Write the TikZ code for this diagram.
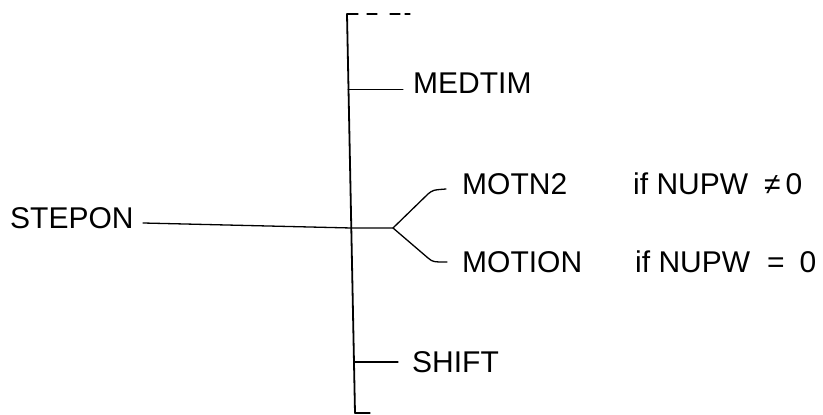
\documentclass[tikz,border=0pt]{standalone}
\usepackage{fontspec}
\setmainfont{Liberation Sans}
\begin{document}
\begin{tikzpicture}[x=1pt,y=1pt,
  lbl/.style={anchor=west,inner sep=0pt,font=\fontsize{30}{31}\selectfont},
  link/.style={line width=1.3pt,line cap=round,line join=round},
  spine/.style={line width=1.8pt,line cap=round}]
\useasboundingbox (0,0) rectangle (823,415);

% vertical call bar
\coordinate (top) at (347,401);
\coordinate (bot) at (355,2);
\draw[spine] (top) -- (bot);
\coordinate (topend) at (410,401);
\draw[link,dash pattern=on 11pt off 9pt on 10pt off 13pt on 10pt off 5pt on 5pt off 20pt] (top) -- (topend);
\coordinate (botend) at (370,2);
\draw[link] (bot) -- (botend);

% labels
\node[lbl] (stepon) at (10,197) {STEPON};
\node[lbl] (medtim) at (413,332) {MEDTIM};
\node[lbl] (motn2) at (462,231) {MOTN2};
\node[lbl] (motion) at (462,153) {MOTION};
\node[lbl] (shift) at (412,53) {SHIFT};
\node[lbl] (cond1) at (633,231) {if NUPW\hspace{16pt}≠\hspace{5pt}0};
\node[lbl] (cond2) at (635,153) {if NUPW\hspace{17pt}=\hspace{15pt}0};

% ticks from the bar
\coordinate (medtick) at (348,325);
\draw[link,line width=1pt] (medtick) -- (403,325);
\coordinate (shifttick) at (353.8,53);
\draw[link] (shifttick) -- (398,53);

% STEPON link and the fork
\coordinate (sstart) at (143,192);
\coordinate (cross) at (351.3,187);
\coordinate (fork) at (393,187);
\draw[link] (sstart) -- (cross) -- (fork);
\draw[link] (fork) -- (428,221) .. controls (433,225) .. ([xshift=-16pt]motn2.west |- 0,226);
\draw[link] (fork) -- (428,157) .. controls (433,153) .. ([xshift=-15pt]motion.west);
\end{tikzpicture}
\end{document}
